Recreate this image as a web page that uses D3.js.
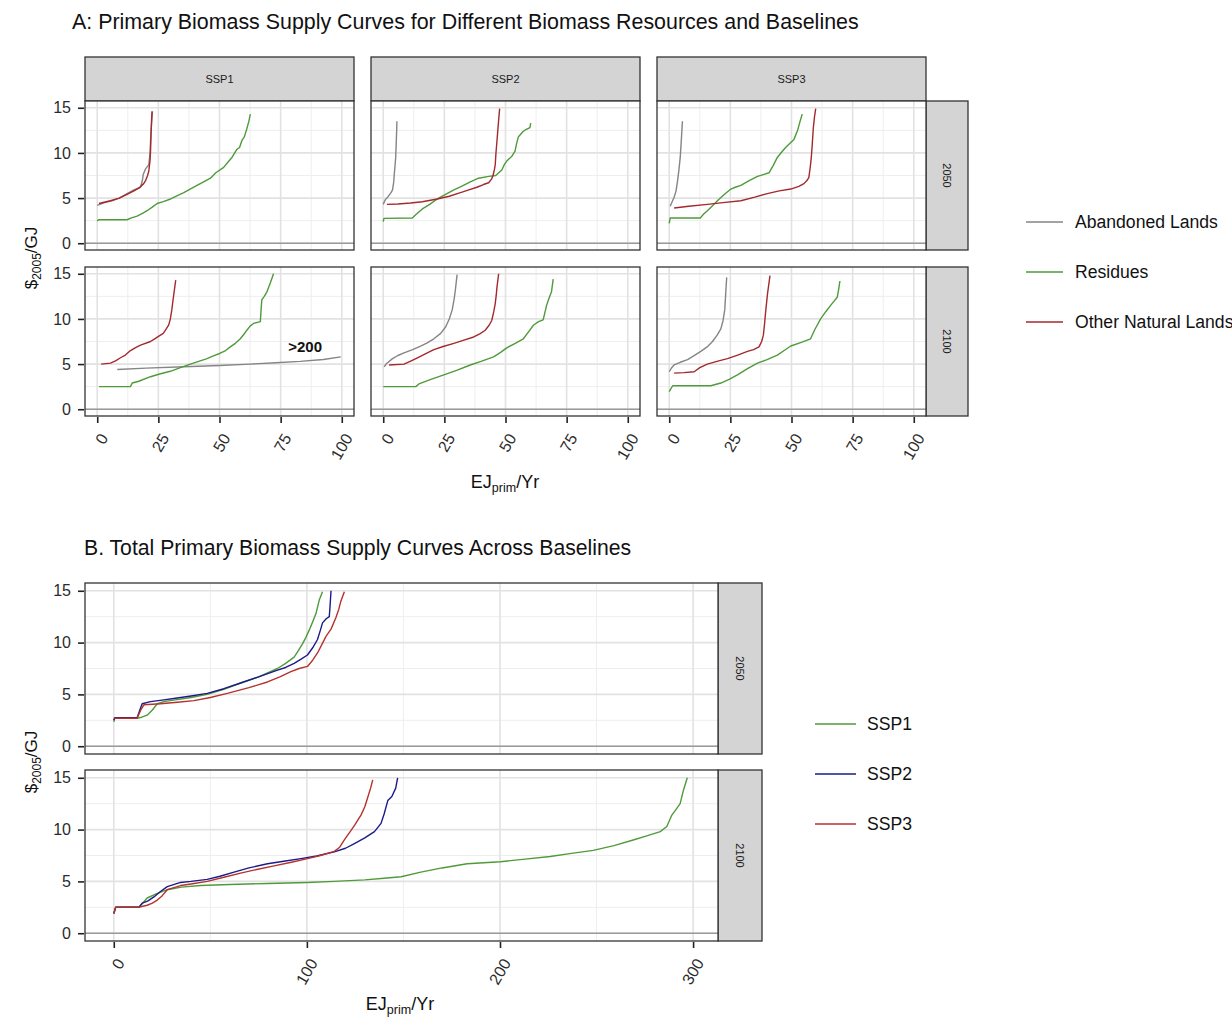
<!DOCTYPE html>
<html><head><meta charset="utf-8">
<script src="https://cdn.jsdelivr.net/npm/d3@7"></script>
<style>body{margin:0;background:#fff} text{font-family:"Liberation Sans",Arial,Helvetica,sans-serif}</style>
</head><body><svg id="c" width="1232" height="1017"></svg>
<script>
// ---------- categories / ticks ----------
const resources = ["Abandoned Lands", "Residues", "Other Natural Lands"];
const scenarios = ["SSP1", "SSP2", "SSP3"];
const years = ["2050", "2100"];
const xTicksA = [0, 25, 50, 75, 100];
const xMinorA = [12.5, 37.5, 62.5, 87.5];
const xTicksB = [0, 100, 200, 300];
const xMinorB = [50, 150, 250];
const yTicks = [0, 5, 10, 15];
const yMinor = [2.5, 7.5, 12.5];

// ---------- Panel A series: [EJ/yr, $/GJ] ----------
const a_ssp1_2050_abandoned = [[0,4.2],[3,4.5],[6,4.7],[9,5.0],[12.2,5.5],[15,5.9],[17.7,6.2],[18.5,7.0],[18.8,7.6],[19.7,8.2],[21.1,8.7],[21.6,10.0],[21.9,12],[22.3,13.5],[22.6,14.6]];
const a_ssp1_2050_residues = [[0,2.45],[0.5,2.6],[12.2,2.6],[14,2.8],[16.3,3.0],[18.5,3.3],[20.4,3.6],[22.5,4.0],[24.5,4.4],[27,4.6],[30,4.9],[33,5.3],[35.4,5.6],[38,6.0],[40.8,6.4],[43.5,6.8],[46.3,7.2],[48.5,7.8],[51.7,8.4],[53.5,9.0],[55.1,9.5],[57.1,10.4],[58.2,10.6],[59.2,11.4],[60.2,11.8],[61.2,12.7],[62,13.5],[62.6,14.3]];
const a_ssp1_2050_other = [[0.7,4.4],[5.4,4.7],[9,5.0],[12.2,5.4],[15,5.8],[17,6.1],[19,6.6],[19.7,6.9],[20.6,7.5],[21.1,8.0],[21.6,9.2],[21.8,10.2],[22.0,12],[22.2,13.5],[22.4,14.6]];

const a_ssp2_2050_abandoned = [[0,4.3],[0.8,4.8],[1.8,5.1],[3.2,5.6],[3.8,5.9],[4.3,6.8],[4.5,7.6],[4.8,8.5],[5.1,9.5],[5.3,11],[5.5,12.5],[5.6,13.5]];
const a_ssp2_2050_residues = [[0,2.4],[0.3,2.75],[11.9,2.8],[13.5,3.2],[16,3.8],[19,4.3],[22.1,4.9],[25.5,5.4],[28.9,5.9],[32,6.3],[35.6,6.8],[39,7.2],[43.1,7.4],[46,7.5],[48.5,8.1],[49.5,8.7],[50.5,9.1],[52.5,9.6],[53.9,10.2],[54.5,11],[55.3,11.8],[57.3,12.4],[58.5,12.6],[60,12.8],[60.3,13.3]];
const a_ssp2_2050_other = [[1.5,4.3],[6,4.35],[11.2,4.45],[16,4.6],[22.1,4.9],[27,5.2],[31.6,5.6],[35,5.9],[38.3,6.2],[41,6.5],[43.1,6.7],[44.3,7.1],[44.9,7.5],[45.5,8.2],[45.8,8.7],[46.1,10],[46.5,11.3],[47,13],[47.6,14.9]];

const a_ssp3_2050_abandoned = [[0.4,4.1],[1.2,4.6],[2,5.1],[2.8,5.8],[3.4,6.9],[4,8.2],[4.5,9.5],[4.9,11.2],[5.4,13.5]];
const a_ssp3_2050_residues = [[0,2.2],[0.4,2.8],[12.7,2.8],[14,3.2],[15.6,3.6],[17.5,4.1],[19.7,4.7],[22.5,5.4],[25.2,6.0],[27,6.2],[29.3,6.4],[32.5,6.9],[36.1,7.4],[38.5,7.6],[40.8,7.8],[42.5,8.6],[44.2,9.5],[46,10.1],[47.6,10.6],[49.5,11.1],[51,11.5],[52.5,12.5],[53.5,13.5],[54.4,14.3]];
const a_ssp3_2050_other = [[2,3.9],[8,4.1],[15.6,4.3],[22,4.5],[29.3,4.7],[35,5.1],[40.1,5.5],[45,5.8],[49.7,6.0],[53,6.3],[55.1,6.6],[56.5,7.0],[57.1,7.3],[57.7,8.5],[58.1,9.5],[58.5,11],[58.9,12.7],[59.4,14],[59.9,14.9]];

const a_ssp1_2100_abandoned = [[8.2,4.4],[20,4.55],[35.4,4.7],[50,4.85],[62.6,5.0],[73,5.15],[83,5.3],[92.5,5.5],[99.6,5.8]];
const a_ssp1_2100_residues = [[0.7,2.5],[13.6,2.5],[14.3,2.9],[17,3.1],[21.8,3.6],[25.5,3.9],[29.9,4.2],[34,4.6],[38.1,5.0],[41.5,5.3],[44.9,5.6],[47.5,5.9],[50.3,6.2],[52.5,6.5],[54.4,6.9],[56.5,7.3],[58.5,7.8],[60,8.3],[61.2,8.75],[62.5,9.2],[63.9,9.5],[66.7,9.7],[67,11],[67.3,12.1],[68.3,12.5],[69.4,13],[70.8,14],[72.1,15]];
const a_ssp1_2100_other = [[1.6,5.0],[5.4,5.1],[7.5,5.35],[9.5,5.7],[11.5,6.0],[13.6,6.5],[15.5,6.8],[17.7,7.1],[21.8,7.5],[23.5,7.8],[25.2,8.1],[27,8.4],[27.9,8.75],[29.2,9.3],[29.9,10.0],[30.5,11],[31,12.1],[31.6,13.3],[32.1,14.3]];

const a_ssp2_2100_abandoned = [[0.4,4.7],[1.5,5.1],[3.8,5.6],[6,5.95],[8.5,6.25],[12,6.6],[15.3,7.0],[18,7.35],[20.7,7.8],[23.5,8.4],[25.5,9.1],[27,10],[28.2,11],[29,12.2],[29.5,13.2],[30.2,14.9]];
const a_ssp2_2100_residues = [[0,2.5],[13.3,2.5],[14.6,2.8],[19.5,3.3],[24.8,3.8],[30,4.3],[35.6,4.9],[40,5.3],[45.1,5.8],[48,6.3],[50.5,6.8],[54,7.3],[57.3,7.8],[59.5,8.6],[61.4,9.3],[63.5,9.7],[65.4,9.9],[66.2,10.8],[66.8,11.5],[67.8,12.3],[68.8,13],[69.2,13.8],[69.5,14.4]];
const a_ssp2_2100_other = [[2.4,4.9],[8.5,5.0],[11,5.3],[14,5.7],[17,6.1],[20.7,6.6],[24.5,6.95],[28.9,7.3],[33,7.65],[37,8.0],[39.5,8.35],[41.7,8.75],[43.3,9.3],[44.4,9.85],[45.2,10.8],[45.8,11.7],[46.2,12.6],[46.5,13.5],[47.2,15]];

const a_ssp3_2100_abandoned = [[0,4.15],[1,4.6],[2,4.9],[4.5,5.2],[7.5,5.5],[10,5.9],[12.9,6.4],[15.5,6.9],[17.7,7.5],[19.6,8.2],[21.1,8.9],[22,9.8],[22.7,11],[23.1,12.8],[23.5,14.6]];
const a_ssp3_2100_residues = [[0,1.95],[1.4,2.6],[8,2.6],[17,2.6],[21.1,2.9],[24.5,3.3],[27.9,3.8],[32,4.5],[36.1,5.1],[40,5.5],[44.2,6.0],[47,6.5],[49.7,7.0],[54,7.4],[57.8,7.8],[59.5,8.8],[61.9,10],[64,10.8],[66,11.5],[67.5,12],[68.7,12.4],[69.3,13.3],[69.8,14.2]];
const a_ssp3_2100_other = [[2,4.0],[6,4.05],[10.2,4.15],[12.5,4.6],[15.6,5.0],[19.5,5.3],[23.8,5.6],[28,6.0],[32,6.4],[34.5,6.6],[36.7,6.9],[37.8,7.5],[38.5,8.2],[39,9.5],[39.5,11],[40.2,12.8],[41.2,14.8]];

// ---------- Panel B series (totals) ----------
const b_2050_ssp1 = [[0,2.35],[0.5,2.7],[12.1,2.7],[14.5,2.8],[17.3,3.0],[20,3.5],[22.5,4.1],[26,4.3],[31,4.45],[40,4.7],[48.4,5.0],[57,5.5],[65.7,6.1],[75,6.7],[84.8,7.5],[89,8.0],[93.4,8.6],[95.5,9.2],[97.8,9.9],[99.5,10.5],[101.2,11.2],[103,12.0],[104.7,12.8],[106.4,14.1],[108.1,14.9]];
const b_2050_ssp2 = [[0,2.5],[0.5,2.75],[12.1,2.75],[13.5,3.5],[14.7,4.1],[19,4.3],[25,4.45],[31.1,4.6],[40,4.85],[48.4,5.1],[57,5.55],[65.7,6.1],[75,6.7],[84.8,7.35],[89,7.6],[93.4,8.0],[97,8.4],[100.3,8.8],[103,9.5],[105.5,10.3],[107,11.2],[108.1,11.9],[110,12.3],[111.6,12.5],[112,13.5],[112.5,15]];
const b_2050_ssp3 = [[0,2.7],[12.1,2.7],[14,3.5],[15.6,4.0],[20,4.05],[24.2,4.1],[33,4.25],[41.5,4.4],[50,4.7],[58.8,5.1],[70,5.65],[79.6,6.2],[86,6.7],[91.7,7.2],[96,7.5],[100.3,7.7],[103,8.3],[105.5,9.0],[108,9.9],[109.9,10.6],[112.5,11.3],[115,12.4],[116.5,13.2],[117.6,14.0],[119.4,14.9]];
const b_2100_ssp1 = [[0,1.9],[1,2.5],[13,2.5],[14.5,2.8],[17.3,3.4],[22,3.8],[27.7,4.2],[35,4.45],[45,4.6],[60,4.7],[79.6,4.8],[100,4.9],[114.2,5.0],[130,5.15],[140,5.3],[148.8,5.45],[159,5.9],[170,6.3],[183,6.7],[200.2,6.9],[213,7.15],[226,7.4],[237,7.7],[248.3,8.0],[259,8.45],[269,9.0],[276,9.4],[283,9.8],[286.4,10.3],[289,11.4],[291,11.9],[293.3,12.5],[295,13.8],[297,15]];
const b_2100_ssp2 = [[0,1.9],[1,2.5],[13,2.5],[14.7,2.9],[17.5,3.1],[20.8,3.5],[24,4.0],[27.7,4.5],[34.6,4.9],[40,5.0],[48.4,5.2],[55,5.5],[62.3,5.9],[70,6.3],[79.6,6.7],[88,6.95],[96.9,7.2],[105,7.45],[114.2,7.85],[120,8.2],[124.6,8.65],[130,9.2],[135,9.8],[138.4,10.6],[140,11.5],[141.9,12.8],[144,13.2],[146,14],[147,15]];
const b_2100_ssp3 = [[0,1.9],[1,2.5],[13,2.5],[15,2.6],[17.3,2.7],[20,2.9],[22.5,3.2],[25,3.6],[27.7,4.2],[34.6,4.6],[40,4.75],[48.4,5.0],[57,5.4],[65.7,5.8],[74,6.15],[83,6.5],[92,6.85],[100.3,7.2],[107,7.5],[114.2,7.9],[117,8.3],[119.4,9.0],[122.8,9.9],[125,10.5],[128,11.4],[130,12.2],[131.5,13.1],[133,14],[134.1,14.8]];

// ---------- lookup tables built from the arrays ----------
const seriesA = {
  "SSP1|2050": [a_ssp1_2050_abandoned, a_ssp1_2050_residues, a_ssp1_2050_other],
  "SSP2|2050": [a_ssp2_2050_abandoned, a_ssp2_2050_residues, a_ssp2_2050_other],
  "SSP3|2050": [a_ssp3_2050_abandoned, a_ssp3_2050_residues, a_ssp3_2050_other],
  "SSP1|2100": [a_ssp1_2100_abandoned, a_ssp1_2100_residues, a_ssp1_2100_other],
  "SSP2|2100": [a_ssp2_2100_abandoned, a_ssp2_2100_residues, a_ssp2_2100_other],
  "SSP3|2100": [a_ssp3_2100_abandoned, a_ssp3_2100_residues, a_ssp3_2100_other]
};
const seriesB = {
  "2050": [b_2050_ssp1, b_2050_ssp2, b_2050_ssp3],
  "2100": [b_2100_ssp1, b_2100_ssp2, b_2100_ssp3]
};
const colorsA = ["#858585", "#4f9a3a", "#a3292e"];
const colorsB = ["#4f9a3a", "#1b1b8a", "#b4322e"];

// ---------- drawing ----------
const svg = d3.select("#c");
svg.append("rect").attr("width", 1232).attr("height", 1017).attr("fill", "#fff");

function panel(x0, y0, w, h, xDom, xMaj, xMin, lines, colors, opts) {
  const x = d3.scaleLinear().domain(xDom).range([x0, x0 + w]);
  const y = d3.scaleLinear().domain([-0.75, 15.75]).range([y0 + h, y0]);
  const g = svg.append("g");
  g.append("rect").attr("x", x0).attr("y", y0).attr("width", w).attr("height", h).attr("fill", "#fff");
  g.selectAll(".gmx").data(xMin).join("line").attr("x1", d => x(d)).attr("x2", d => x(d))
    .attr("y1", y0).attr("y2", y0 + h).attr("stroke", "#eeeeee").attr("stroke-width", 1);
  g.selectAll(".gmy").data(yMinor).join("line").attr("y1", d => y(d)).attr("y2", d => y(d))
    .attr("x1", x0).attr("x2", x0 + w).attr("stroke", "#eeeeee").attr("stroke-width", 1);
  g.selectAll(".gMx").data(xMaj).join("line").attr("x1", d => x(d)).attr("x2", d => x(d))
    .attr("y1", y0).attr("y2", y0 + h).attr("stroke", "#e2e2e2").attr("stroke-width", 1.6);
  g.selectAll(".gMy").data(yTicks).join("line").attr("y1", d => y(d)).attr("y2", d => y(d))
    .attr("x1", x0).attr("x2", x0 + w).attr("stroke", "#e2e2e2").attr("stroke-width", 1.6);
  // zero line
  g.append("line").attr("x1", x0).attr("x2", x0 + w).attr("y1", y(0)).attr("y2", y(0))
    .attr("stroke", "#9a9a9a").attr("stroke-width", 1.5);
  const line = d3.line().x(d => x(d[0])).y(d => y(d[1]));
  lines.forEach((pts, i) => {
    g.append("path").attr("d", line(pts)).attr("fill", "none").attr("stroke", colors[i])
      .attr("stroke-width", 1.4).attr("stroke-linejoin", "round");
  });
  g.append("rect").attr("x", x0).attr("y", y0).attr("width", w).attr("height", h)
    .attr("fill", "none").attr("stroke", "#333").attr("stroke-width", 1.3);
  if (opts.left) {
    const ax = d3.axisLeft(y).tickValues(yTicks).tickSize(6).tickPadding(7);
    const a = svg.append("g").attr("transform", `translate(${x0 - 1},0)`).call(ax);
    a.select(".domain").remove();
    a.selectAll(".tick line").attr("stroke", "#222").attr("stroke-width", 1.6);
    a.selectAll(".tick text").attr("font-size", 16).attr("fill", "#2b2b2b")
      .attr("font-family", "Liberation Sans, Arial, sans-serif");
  }
  if (opts.bottom) {
    const ax = d3.axisBottom(x).tickValues(xMaj).tickSize(6).tickFormat(d3.format("d"));
    const a = svg.append("g").attr("transform", `translate(0,${y0 + h + 1})`).call(ax);
    a.select(".domain").remove();
    a.selectAll(".tick line").attr("stroke", "#222").attr("stroke-width", 1.6);
    a.selectAll(".tick text").attr("font-size", 16).attr("fill", "#2b2b2b")
      .attr("font-family", "Liberation Sans, Arial, sans-serif")
      .attr("text-anchor", "end").attr("dy", "0.35em").attr("y", 0)
      .attr("transform", "translate(6,18) rotate(-60)");
  }
  return {x, y};
}

function strip(x0, y0, w, h, label, vertical) {
  svg.append("rect").attr("x", x0).attr("y", y0).attr("width", w).attr("height", h)
    .attr("fill", "#d4d4d4").attr("stroke", "#333").attr("stroke-width", 1.3);
  const t = svg.append("text").attr("font-size", 11).attr("fill", "#1a1a1a")
    .attr("text-anchor", "middle").attr("dominant-baseline", "central").text(label);
  if (vertical) t.attr("transform", `translate(${x0 + w / 2},${y0 + h / 2}) rotate(90)`);
  else t.attr("x", x0 + w / 2).attr("y", y0 + h / 2);
}

function yTitle(cx, cy) {
  const t = svg.append("text").attr("font-size", 17).attr("fill", "#111").attr("text-anchor", "middle")
    .attr("transform", `translate(${cx},${cy}) rotate(-90)`);
  t.append("tspan").text("$");
  t.append("tspan").attr("font-size", 12).attr("dy", 4).text("2005");
  t.append("tspan").attr("dy", -4).text("/GJ");
}
function xTitle(cx, cy) {
  const t = svg.append("text").attr("font-size", 18).attr("fill", "#111").attr("text-anchor", "middle")
    .attr("x", cx).attr("y", cy);
  t.append("tspan").text("EJ");
  t.append("tspan").attr("font-size", 12.5).attr("dy", 4).text("prim");
  t.append("tspan").attr("dy", -4).text("/Yr");
}

// ---- Panel A ----
svg.append("text").attr("x", 72).attr("y", 29).attr("font-size", 21.4).attr("fill", "#111")
  .text("A: Primary Biomass Supply Curves for Different Biomass Resources and Baselines");
const colAx = [85, 371, 657], wA = 269;
const rowAy = [101, 267], hA = 149;
scenarios.forEach((s, ci) => strip(colAx[ci], 57, wA, 44, s, false));
years.forEach((yr, ri) => strip(926, rowAy[ri], 42, hA, yr, true));
let sA = null;
years.forEach((yr, ri) => {
  scenarios.forEach((s, ci) => {
    const sc = panel(colAx[ci], rowAy[ri], wA, hA, [-5, 105], xTicksA, xMinorA,
      seriesA[s + "|" + yr], colorsA, {left: ci === 0, bottom: ri === 1});
    if (ci === 0 && ri === 1) sA = sc;
  });
});
// annotation
svg.append("text").attr("x", sA.x(85)).attr("y", sA.y(6.9)).attr("text-anchor", "middle")
  .attr("dominant-baseline", "central").attr("font-size", 15).attr("font-weight", "bold")
  .attr("fill", "#111").text(">200");
yTitle(37, 258);
xTitle(505, 488);

// legend A
resources.forEach((r, i) => {
  const yy = 222 + i * 50;
  svg.append("line").attr("x1", 1026).attr("x2", 1063).attr("y1", yy).attr("y2", yy)
    .attr("stroke", colorsA[i]).attr("stroke-width", 1.5);
  svg.append("text").attr("x", 1075).attr("y", yy).attr("dominant-baseline", "central")
    .attr("font-size", 17.6).attr("fill", "#111").text(r);
});

// ---- Panel B ----
svg.append("text").attr("x", 84).attr("y", 555).attr("font-size", 21.2).attr("fill", "#111")
  .text("B. Total Primary Biomass Supply Curves Across Baselines");
const rowBy = [583, 770], hB = 171, xB0 = 85, wB = 633;
years.forEach((yr, ri) => {
  strip(718, rowBy[ri], 44, hB, yr, true);
  panel(xB0, rowBy[ri], wB, hB, [-14.9, 312.9], xTicksB, xMinorB, seriesB[yr], colorsB,
    {left: true, bottom: ri === 1});
});
yTitle(37, 762);
xTitle(400, 1010);

// legend B
scenarios.forEach((s, i) => {
  const yy = 724 + i * 50;
  svg.append("line").attr("x1", 815).attr("x2", 856).attr("y1", yy).attr("y2", yy)
    .attr("stroke", colorsB[i]).attr("stroke-width", 1.5);
  svg.append("text").attr("x", 867).attr("y", yy).attr("dominant-baseline", "central")
    .attr("font-size", 17.6).attr("fill", "#111").text(s);
});
</script></body></html>
